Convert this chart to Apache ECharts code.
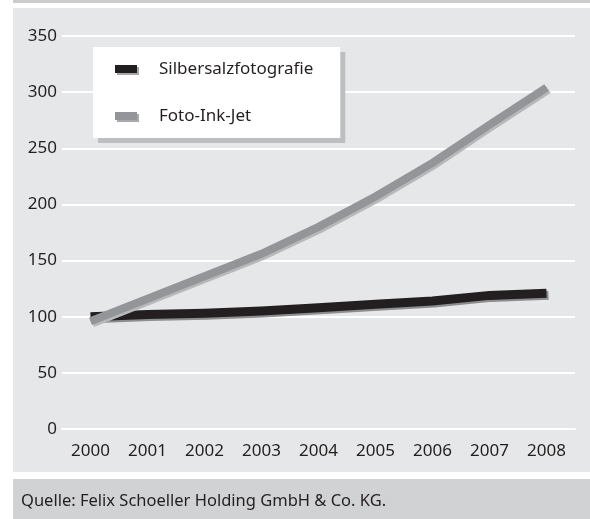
<!DOCTYPE html>
<html>
<head>
<meta charset="utf-8">
<script src="https://cdn.jsdelivr.net/npm/echarts@6/dist/echarts.min.js"></script>
<style>
  html, body { margin: 0; padding: 0; background: #ffffff; }
  #chart { width: 590px; height: 519px; }
</style>
</head>
<body>
<div id="chart"></div>
<script>
// Index development, 2000 = 100
const years = ['2000', '2001', '2002', '2003', '2004', '2005', '2006', '2007', '2008'];
const silberValues = [100, 102, 103, 105, 108, 111, 114, 119, 121];
const inkjetValues = [96, 116, 136, 156, 180, 207, 237, 271, 304];
const seriesNames = ['Silbersalzfotografie', 'Foto-Ink-Jet'];
const sourceText = 'Quelle: Felix Schoeller Holding GmbH & Co. KG.';

const FONT = '"Noto Sans", "Open Sans", sans-serif';
const TEXT = '#231f20';

const chart = echarts.init(document.getElementById('chart'), null, { renderer: 'canvas' });

chart.setOption({
  animation: false,
  backgroundColor: '#ffffff',
  textStyle: { fontFamily: FONT },
  graphic: [
    { type: 'rect', z: -10, shape: { x: 13, y: 0, width: 577, height: 3 }, style: { fill: '#cbcccd' } },
    { type: 'rect', z: -10, shape: { x: 13, y: 8, width: 577, height: 464 }, style: { fill: '#e6e7e8' } },
    { type: 'rect', z: -10, shape: { x: 13, y: 479, width: 577, height: 40 }, style: { fill: '#d1d2d4' } },
    { type: 'text', x: 21, y: 501, style: { text: sourceText, font: '16.5px ' + FONT, fill: TEXT, verticalAlign: 'middle' } }
  ],
  legend: {
    orient: 'vertical',
    left: 93,
    top: 47,
    data: seriesNames,
    backgroundColor: '#ffffff',
    shadowColor: '#bcbec0',
    shadowBlur: 0,
    shadowOffsetX: 5,
    shadowOffsetY: 5,
    padding: [13.5, 27, 13.5, 22],
    itemGap: 30,
    itemWidth: 22,
    itemHeight: 8,
    icon: 'rect',
    itemStyle: { shadowColor: '#a7a9ac', shadowBlur: 0, shadowOffsetX: 2, shadowOffsetY: 2 },
    textStyle: { fontSize: 17, color: TEXT, fontFamily: FONT, padding: [0, 0, 0, 17] }
  },
  grid: { left: 62, right: 15, top: 36, bottom: 90 },
  xAxis: {
    type: 'category',
    data: years,
    boundaryGap: true,
    axisLine: { lineStyle: { color: '#ffffff', width: 2 } },
    axisTick: { inside: true, length: 4, lineStyle: { color: '#ffffff', width: 1 } },
    axisLabel: { color: TEXT, fontSize: 17, margin: 14, fontFamily: FONT }
  },
  yAxis: {
    type: 'value',
    min: 0,
    max: 350,
    interval: 50,
    axisLine: { show: false },
    axisTick: { show: false },
    axisLabel: { color: TEXT, fontSize: 17, margin: 5, fontFamily: FONT },
    splitLine: { lineStyle: { color: '#ffffff', width: 2 } }
  },
  series: [
    {
      name: seriesNames[0],
      type: 'line',
      data: silberValues,
      symbol: 'none',
      color: '#231f20',
      lineStyle: { width: 9, color: '#231f20', cap: 'butt', join: 'miter',
        shadowColor: '#8c8d8f', shadowBlur: 0, shadowOffsetX: 2, shadowOffsetY: 2 },
      itemStyle: { color: '#231f20' }
    },
    {
      name: seriesNames[1],
      type: 'line',
      data: inkjetValues,
      symbol: 'none',
      color: '#939598',
      lineStyle: { width: 8, color: '#939598', cap: 'butt', join: 'miter',
        shadowColor: '#b7b8ba', shadowBlur: 0, shadowOffsetX: 2, shadowOffsetY: 2 },
      itemStyle: { color: '#939598' }
    }
  ]
});
</script>
</body>
</html>
